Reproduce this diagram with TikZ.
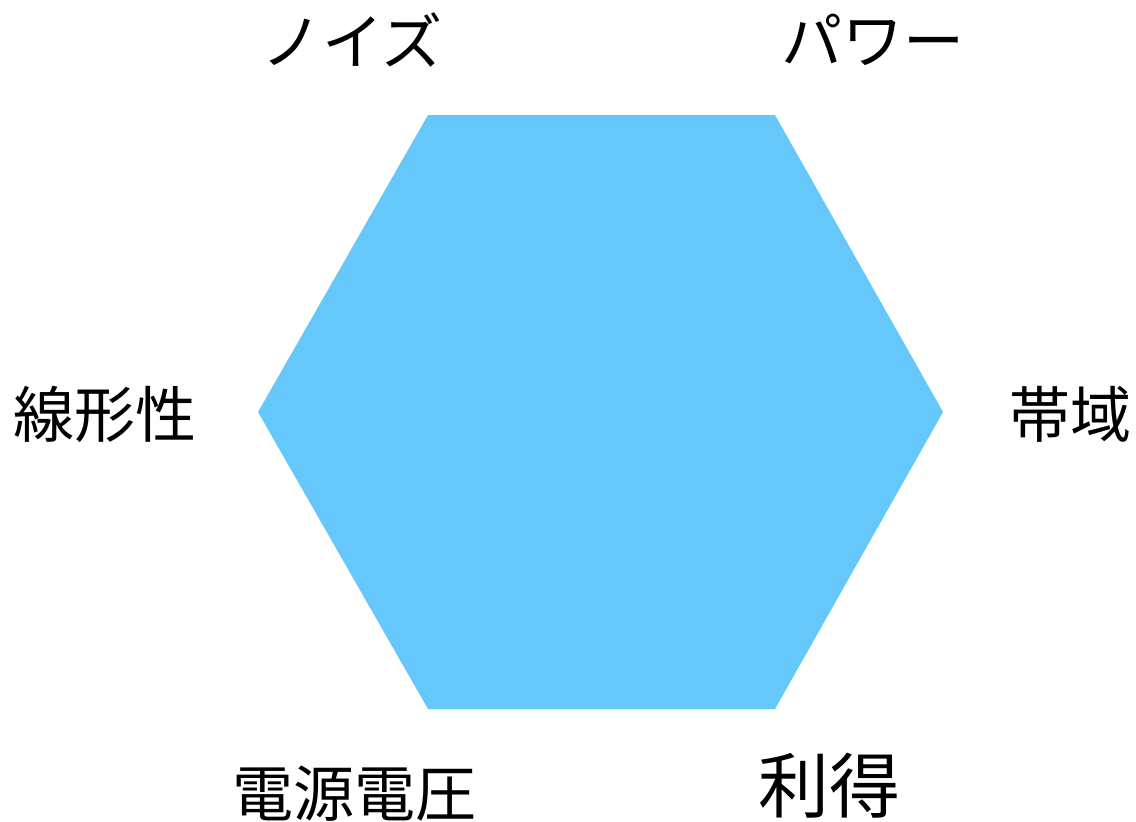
\documentclass[tikz,border=0pt]{standalone}
\usepackage{fontspec}
\newfontfamily\jp{Noto Sans CJK JP}
\definecolor{hexblue}{HTML}{66C8FA}
\begin{document}
\begin{tikzpicture}[x=1pt,y=-1pt,
  lab/.style={font=\jp\fontsize{61}{61}\selectfont, inner sep=0pt, anchor=center}]
\useasboundingbox (0,0) rectangle (1136,822);
\fill[hexblue] (428,115) -- (775,115) -- (943,412) -- (775,709) -- (428,709) -- (258,412) -- cycle;
\node[lab] (noise) at (352,40) {ノイズ};
\node[lab] (power) at (873,40) {パワー};
\node[lab] (lin) at (105,414) {線形性};
\node[lab] (band) at (1070,414) {帯域};
\node[lab] (volt) at (354,794) {電源電圧};
\node[lab, font=\jp\fontsize{71}{71}\selectfont] (gain) at (829,786) {利得};
\end{tikzpicture}
\end{document}
